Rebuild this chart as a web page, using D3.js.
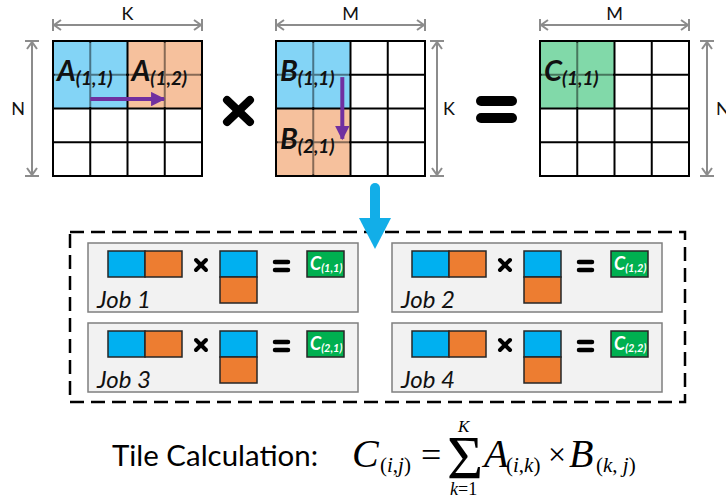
<!DOCTYPE html>
<html>
<head>
<meta charset="utf-8">
<script src="https://cdn.jsdelivr.net/npm/d3@7"></script>
<style>
  body { margin: 0; background: #fff; }
  svg { display: block; }
</style>
</head>
<body>
<svg id="diagram" width="726" height="499"></svg>
<script>
// matrices and their dimension labels
const matrixNames = ['A', 'B', 'C'];
const topDims = ['K', 'M', 'M'];
const sideDims = ['N', 'K', 'N'];
const cellIndex = [0, 1, 2, 3, 4];

// highlighted tiles (2x2 cells each)
const tileMatrix = ['A', 'A', 'B', 'B', 'C'];
const tileRow = [0, 0, 0, 1, 0];
const tileCol = [0, 1, 0, 0, 0];
const tileSub = ['(1,1)', '(1,2)', '(1,1)', '(2,1)', '(1,1)'];
const tileKind = ['first', 'second', 'first', 'second', 'result'];

// jobs
const jobNames = ['Job 1', 'Job 2', 'Job 3', 'Job 4'];
const jobRow = [0, 0, 1, 1];
const jobCol = [0, 1, 0, 1];
const jobResult = ['(1,1)', '(1,2)', '(2,1)', '(2,2)'];

const title = 'Tile Calculation:';

const colors = {
    first: '#83d4f6',
    second: '#f6c19d',
    result: '#82d9a9',
    jobFirst: '#00b0f0',
    jobSecond: '#ed7d31',
    jobResult: '#00b050',
    dim: '#8c8c8c',
    purple: '#7030a0',
    arrow: '#12aee8'
};

const svg = d3.select('#diagram');

const matrixX = d3.scaleOrdinal().domain(matrixNames).range([53, 276, 540]);
const cellX = d3.scaleLinear().domain([0, 4]).range([0, 149]);
const cellY = d3.scaleLinear().domain([0, 4]).range([41, 176]);
const kindColor = d3.scaleOrdinal().domain(['first', 'second', 'result'])
    .range([colors.first, colors.second, colors.result]);

const tiles = tileMatrix.map((m, i) => ({
    m: m, row: tileRow[i], col: tileCol[i], sub: tileSub[i], kind: tileKind[i]
}));

// tile fills
svg.selectAll('rect.tile').data(tiles).join('rect')
    .attr('class', 'tile')
    .attr('x', d => matrixX(d.m) + cellX(d.col * 2))
    .attr('y', d => cellY(d.row * 2))
    .attr('width', cellX(2))
    .attr('height', cellY(2) - cellY(0))
    .attr('fill', d => kindColor(d.kind));

// grid lines
matrixNames.forEach(m => {
    const g = svg.append('g').attr('stroke', '#000').attr('stroke-width', 2);
    g.selectAll('line.v').data(cellIndex).join('line')
        .attr('x1', i => matrixX(m) + cellX(i)).attr('x2', i => matrixX(m) + cellX(i))
        .attr('y1', cellY(0) - 1).attr('y2', cellY(4) + 1);
    g.selectAll('line.h').data(cellIndex).join('line')
        .attr('x1', matrixX(m) - 1).attr('x2', matrixX(m) + cellX(4) + 1)
        .attr('y1', i => cellY(i)).attr('y2', i => cellY(i));
});

// tint the inner lines of each tile
svg.selectAll('rect.tint').data(tiles).join('rect')
    .attr('class', 'tint')
    .attr('x', d => matrixX(d.m) + cellX(d.col * 2) + 1.5)
    .attr('y', d => cellY(d.row * 2) + 1.5)
    .attr('width', cellX(2) - 3)
    .attr('height', cellY(2) - cellY(0) - 3)
    .attr('fill', d => kindColor(d.kind))
    .attr('opacity', 0.55);

// purple arrows
const defs = svg.append('defs');
defs.append('marker')
    .attr('id', 'purpleHead')
    .attr('viewBox', '0 0 10 10')
    .attr('refX', 9).attr('refY', 5)
    .attr('markerWidth', 4.2).attr('markerHeight', 3.6)
    .attr('markerUnits', 'strokeWidth')
    .attr('orient', 'auto')
    .append('path')
    .attr('d', 'M0,0 L10,5 L0,10 Z')
    .attr('fill', colors.purple);

svg.append('line')
    .attr('x1', matrixX('A') + cellX(1)).attr('x2', matrixX('A') + cellX(2.98))
    .attr('y1', cellY(1.72)).attr('y2', cellY(1.72))
    .attr('stroke', colors.purple).attr('stroke-width', 4)
    .attr('marker-end', 'url(#purpleHead)');

svg.append('line')
    .attr('x1', matrixX('B') + cellX(1.78)).attr('x2', matrixX('B') + cellX(1.78))
    .attr('y1', cellY(1.07)).attr('y2', cellY(2.9))
    .attr('stroke', colors.purple).attr('stroke-width', 4)
    .attr('marker-end', 'url(#purpleHead)');

// tile labels
const tileText = svg.selectAll('text.tileLabel').data(tiles).join('text')
    .attr('class', 'tileLabel')
    .attr('x', d => matrixX(d.m) + cellX(d.col * 2) + 4)
    .attr('y', d => cellY(d.row * 2) + 40)
    .attr('font-family', 'Lato, sans-serif')
    .attr('font-weight', 'bold')
    .attr('font-style', 'italic')
    .attr('fill', '#111');
tileText.append('tspan').attr('font-size', 29).text(d => d.m);
tileText.append('tspan').attr('font-size', 19).attr('dy', 4).text(d => d.sub);

// dimension arrows
function dimHorizontal(x1, x2, y, label) {
    const g = svg.append('g').attr('stroke', colors.dim).attr('stroke-width', 2).attr('fill', 'none');
    g.append('line').attr('x1', x1).attr('x2', x2).attr('y1', y).attr('y2', y);
    g.append('line').attr('x1', x1).attr('x2', x1).attr('y1', y - 6).attr('y2', y + 6);
    g.append('line').attr('x1', x2).attr('x2', x2).attr('y1', y - 6).attr('y2', y + 6);
    g.append('path').attr('d', `M${x1 + 8},${y - 5} L${x1 + 1},${y} L${x1 + 8},${y + 5}`);
    g.append('path').attr('d', `M${x2 - 8},${y - 5} L${x2 - 1},${y} L${x2 - 8},${y + 5}`);
    svg.append('text')
        .attr('x', (x1 + x2) / 2).attr('y', y - 5)
        .attr('text-anchor', 'middle')
        .attr('font-family', 'Lato, sans-serif')
        .attr('font-size', 18)
        .attr('fill', '#111')
        .text(label);
}
function dimVertical(x, y1, y2, label, labelX, anchor) {
    const g = svg.append('g').attr('stroke', colors.dim).attr('stroke-width', 2).attr('fill', 'none');
    g.append('line').attr('x1', x).attr('x2', x).attr('y1', y1).attr('y2', y2);
    g.append('line').attr('x1', x - 7).attr('x2', x + 7).attr('y1', y1).attr('y2', y1);
    g.append('line').attr('x1', x - 7).attr('x2', x + 7).attr('y1', y2).attr('y2', y2);
    g.append('path').attr('d', `M${x - 5},${y1 + 8} L${x},${y1 + 1} L${x + 5},${y1 + 8}`);
    g.append('path').attr('d', `M${x - 5},${y2 - 8} L${x},${y2 - 1} L${x + 5},${y2 - 8}`);
    svg.append('text')
        .attr('x', labelX).attr('y', (y1 + y2) / 2 + 6)
        .attr('text-anchor', anchor)
        .attr('font-family', 'Lato, sans-serif')
        .attr('font-size', 18)
        .attr('fill', '#111')
        .text(label);
}

matrixNames.forEach((m, i) => {
    dimHorizontal(matrixX(m), matrixX(m) + cellX(4), 25, topDims[i]);
});
dimVertical(32, cellY(0), cellY(4), sideDims[0], 18, 'middle');
dimVertical(437, cellY(0), cellY(4), sideDims[1], 443, 'start');
dimVertical(707, cellY(0), cellY(4), sideDims[2], 716, 'start');

// big operators
svg.append('g').attr('stroke', '#000').attr('stroke-width', 8).attr('stroke-linecap', 'round')
    .call(g => {
        g.append('line').attr('x1', 227).attr('y1', 100).attr('x2', 250).attr('y2', 122);
        g.append('line').attr('x1', 250).attr('y1', 100).attr('x2', 227).attr('y2', 122);
        g.append('line').attr('x1', 481).attr('y1', 101).attr('x2', 512).attr('y2', 101).attr('stroke-width', 10);
        g.append('line').attr('x1', 481).attr('y1', 118).attr('x2', 512).attr('y2', 118).attr('stroke-width', 10);
    });

// blue down arrow
svg.append('line')
    .attr('x1', 375).attr('x2', 375).attr('y1', 188).attr('y2', 222)
    .attr('stroke', colors.arrow).attr('stroke-width', 10).attr('stroke-linecap', 'round');

// dashed frame
svg.append('rect')
    .attr('x', 70).attr('y', 232).attr('width', 615).attr('height', 170)
    .attr('fill', 'none').attr('stroke', '#000').attr('stroke-width', 2.5)
    .attr('stroke-dasharray', '14,7');

svg.append('path')
    .attr('d', 'M359,218 L391,218 L375,249 Z')
    .attr('fill', colors.arrow);

// job panels
const jobX = d3.scaleOrdinal().domain([0, 1]).range([88, 392]);
const jobY = d3.scaleOrdinal().domain([0, 1]).range([243, 323]);
const jobs = jobNames.map((name, i) => ({ name: name, row: jobRow[i], col: jobCol[i], res: jobResult[i] }));

const panel = svg.selectAll('g.job').data(jobs).join('g')
    .attr('class', 'job')
    .attr('transform', d => `translate(${jobX(d.col)},${jobY(d.row)})`);

panel.append('rect')
    .attr('width', 270).attr('height', 69)
    .attr('fill', '#f2f2f2').attr('stroke', '#7f7f7f').attr('stroke-width', 1.5);

function block(sel, x, y, w, h, fill) {
    sel.append('rect').attr('x', x).attr('y', y).attr('width', w).attr('height', h)
        .attr('fill', fill).attr('stroke', '#262626').attr('stroke-width', 1.5);
}
block(panel, 20, 8, 37, 26, colors.jobFirst);
block(panel, 57, 8, 37, 26, colors.jobSecond);
block(panel, 132, 8, 37, 26, colors.jobFirst);
block(panel, 132, 34, 37, 26, colors.jobSecond);
block(panel, 219, 8, 37, 26, colors.jobResult);

panel.append('g').attr('stroke', '#000').attr('stroke-width', 4).attr('stroke-linecap', 'round')
    .call(g => {
        g.append('line').attr('x1', 108).attr('y1', 17).attr('x2', 118).attr('y2', 27);
        g.append('line').attr('x1', 118).attr('y1', 17).attr('x2', 108).attr('y2', 27);
        g.append('line').attr('x1', 187).attr('y1', 19).attr('x2', 200).attr('y2', 19).attr('stroke-width', 4.5);
        g.append('line').attr('x1', 187).attr('y1', 27).attr('x2', 200).attr('y2', 27).attr('stroke-width', 4.5);
    });

const resText = panel.append('text')
    .attr('x', 222).attr('y', 27)
    .attr('font-family', 'Lato, sans-serif')
    .attr('font-weight', 'bold').attr('font-style', 'italic')
    .attr('fill', '#fff');
resText.append('tspan').attr('font-size', 18).text('C');
resText.append('tspan').attr('font-size', 11).attr('dy', 2).text(d => d.res);

panel.append('text')
    .attr('x', 9).attr('y', 65)
    .attr('font-family', 'Lato, sans-serif')
    .attr('font-style', 'italic')
    .attr('font-size', 24)
    .attr('fill', '#111')
    .text(d => d.name);

// formula
svg.append('text')
    .attr('x', 112).attr('y', 466)
    .attr('font-family', 'Lato, sans-serif')
    .attr('font-size', 28)
    .attr('textLength', 206).attr('lengthAdjust', 'spacingAndGlyphs')
    .attr('fill', '#000')
    .text(title);

const serif = "'Liberation Serif', 'Times New Roman', serif";
function math(x, y, size, parts) {
    const t = svg.append('text').attr('x', x).attr('y', y)
        .attr('font-family', serif).attr('font-size', size).attr('fill', '#000');
    parts.forEach(p => t.append('tspan').attr('font-style', p[1] ? 'italic' : 'normal').text(p[0]));
}
math(352, 467, 40, [['C', true]]);
math(380, 472, 21, [['(', false], ['i', true], [',', false], ['j', true], [')', false]]);
math(421, 467, 36, [['=', false]]);
math(447, 478, 62, [['\u03A3', false]]);
math(458, 432, 17, [['K', true]]);
math(450, 495, 18, [['k', true], ['=1', false]]);
math(484, 467, 40, [['A', true]]);
math(506, 472, 21, [['(', false], ['i', true], [',', false], ['k', true], [')', false]]);
math(548, 465, 32, [['\u00D7', false]]);
math(569, 467, 40, [['B', true]]);
math(596, 472, 21, [['(', false], ['k', true], [', ', false], ['j', true], [')', false]]);
</script>
</body>
</html>
